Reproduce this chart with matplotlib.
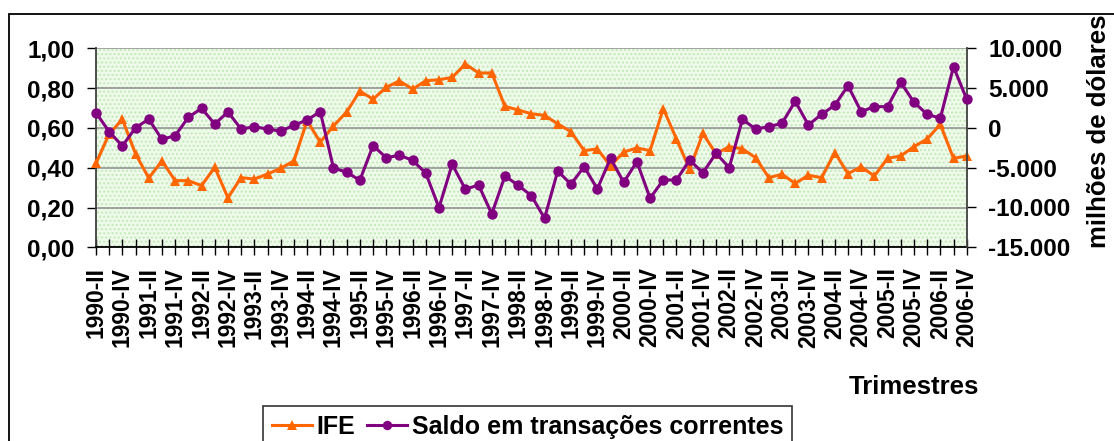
import matplotlib
matplotlib.use("Agg")
import matplotlib.pyplot as plt
from matplotlib.patches import Rectangle
from matplotlib.ticker import FixedLocator, FuncFormatter

plt.rcParams['font.family'] = ['Liberation Sans', 'DejaVu Sans']
plt.rcParams['font.weight'] = 'bold'

years = list(range(1990, 2007))
quarter_names = ['I', 'II', 'III', 'IV']
categories = [f"{y}-{q}" for y in years for q in quarter_names][1:]  # 1990-II .. 2006-IV

ife = [0.422, 0.57, 0.643, 0.469, 0.348, 0.434, 0.335, 0.335, 0.31, 0.402,
       0.249, 0.35, 0.343, 0.368, 0.397, 0.434, 0.636, 0.528, 0.61, 0.68,
       0.785, 0.744, 0.804, 0.836, 0.795, 0.837, 0.842, 0.854, 0.921, 0.876,
       0.876, 0.708, 0.69, 0.671, 0.663, 0.62, 0.581, 0.486, 0.494, 0.409,
       0.479, 0.499, 0.486, 0.697, 0.544, 0.392, 0.572, 0.47, 0.506, 0.495,
       0.45, 0.35, 0.367, 0.321, 0.362, 0.35, 0.476, 0.37, 0.405, 0.358,
       0.447, 0.459, 0.506, 0.544, 0.618, 0.447, 0.459]

saldo = [1900, -480, -2270, 30, 1080, -1430, -980, 1330, 2460, 490,
         2000, -140, 150, -140, -420, 330, 990, 2040, -5030, -5570,
         -6580, -2230, -3740, -3440, -4070, -5700, -10020, -4570, -7710, -7170,
         -10810, -6040, -7210, -8510, -11350, -5410, -7080, -4870, -7670, -3820,
         -6830, -4240, -8840, -6540, -6540, -4030, -5650, -3190, -5000, 1080,
         -140, 150, 580, 3340, 370, 1710, 2840, 5300, 2040, 2670,
         2670, 5730, 3220, 1710, 1210, 7690, 3590]

left_ticks = [0.0, 0.2, 0.4, 0.6, 0.8, 1.0]
right_ticks = [-15000, -10000, -5000, 0, 5000, 10000]

W, H = 1114, 441
fig = plt.figure(figsize=(W / 100, H / 100), dpi=100)

# outer chart frame
fig.patches.append(Rectangle((9 / W, -0.1), 1.2, 1 - 14 / H + 0.1, transform=fig.transFigure,
                             fill=False, edgecolor='black', linewidth=1.3))

ax = fig.add_axes([96 / W, 1 - 247.3 / H, (966.7 - 96) / W, (247.3 - 48.3) / H])
ax.patch.set_facecolor('#effaeb')
ax.patch.set_hatch('....')
ax.patch.set_edgecolor('#c2eab8')
ax.patch.set_linewidth(0)

x = list(range(len(categories)))
ax.set_xlim(0, len(categories) - 1)
ax.set_ylim(0, 1)
ax.yaxis.set_major_locator(FixedLocator(left_ticks))
ax.yaxis.set_major_formatter(FuncFormatter(lambda v, p: f"{v:.2f}".replace('.', ',')))
ax.grid(axis='y', color='#8c8c8c', linewidth=1.1)
ax.set_axisbelow(True)

ax.xaxis.set_major_locator(FixedLocator(x))
ax.set_xticklabels([c if i % 2 == 0 else '' for i, c in enumerate(categories)],
                   rotation=90, fontsize=16.5, fontweight='bold')
ax.tick_params(axis='x', direction='inout', length=11, width=1, pad=9, colors='black')
ax.tick_params(axis='y', direction='out', length=6.5, width=1, pad=9, labelsize=17.5)
ax.spines['top'].set_visible(False)
ax.spines['right'].set_visible(False)
ax.spines['left'].set_color('#404040')
ax.spines['left'].set_linewidth(1.3)
ax.spines['bottom'].set_linewidth(1.3)

l1, = ax.plot(x, ife, color='#ff6600', linewidth=2.2, marker='^', markersize=7.5,
              markeredgewidth=0, clip_on=False, zorder=3)

ax2 = ax.twinx()
ax2.set_ylim(-15000, 10000)
ax2.yaxis.set_major_locator(FixedLocator(right_ticks))
ax2.yaxis.set_major_formatter(FuncFormatter(lambda v, p: f"{int(v):,}".replace(',', '.')))
ax2.tick_params(axis='y', direction='out', length=6.5, width=1, pad=9, labelsize=17.5)
for s in ['top', 'left', 'bottom']:
    ax2.spines[s].set_visible(False)
ax2.spines['right'].set_linewidth(1.3)
ax2.spines['right'].set_color('#404040')
l2, = ax2.plot(x, saldo, color='#800080', linewidth=2.2, marker='o', markersize=7.5,
               markeredgewidth=0, clip_on=False, zorder=3)

for lab in ax.get_yticklabels() + ax2.get_yticklabels():
    lab.set_fontweight('bold')

fig.text(1099 / W, 1 - 131 / H, 'milhões de dólares', rotation=90, ha='center', va='center',
         fontsize=18.5, fontweight='bold')
fig.text(914 / W, 1 - 387 / H, 'Trimestres', ha='center', va='center',
         fontsize=18.5, fontweight='bold')

leg = fig.legend([l1, l2], ['IFE', 'Saldo em transações correntes'], ncol=2,
                 loc='upper left', bbox_to_anchor=(263 / W, 1 - 406 / H),
                 frameon=True, fancybox=False, prop={'size': 18, 'weight': 'bold'},
                 handlelength=1.6, handletextpad=0.2, columnspacing=0.45,
                 borderpad=0.35, borderaxespad=0, markerscale=0.9)
leg.get_frame().set_edgecolor('black')
leg.get_frame().set_linewidth(1.2)

fig.savefig('out.png', dpi=100)
